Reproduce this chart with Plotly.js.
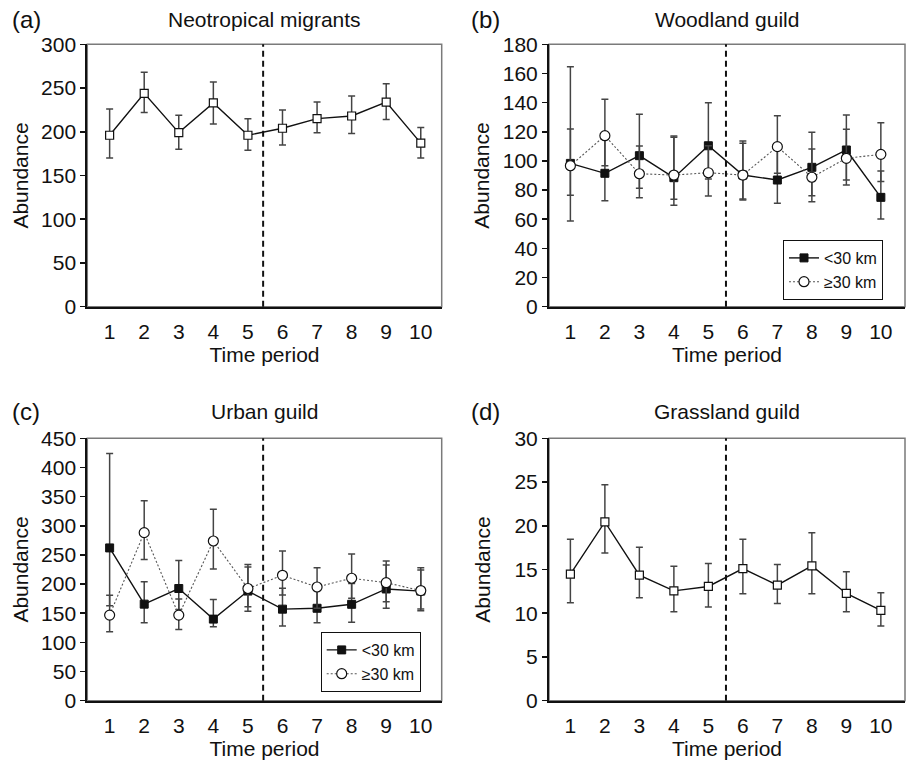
<!DOCTYPE html>
<html>
<head>
<meta charset="utf-8">
<script src="https://cdn.plot.ly/plotly-3.0.1.min.js"></script>
<style>html,body{margin:0;padding:0;background:#fff;}#chart{width:906px;height:764px;}</style>
</head>
<body>
<div id="chart"></div>
<script>
// ---------- data ----------
const periods = [1, 2, 3, 4, 5, 6, 7, 8, 9, 10];
const periodLabels = ['1', '2', '3', '4', '5', '6', '7', '8', '9', '10'];
const breakAfterPeriod = 5;

const panelLetters = ['(a)', '(b)', '(c)', '(d)'];
const panelTitles = ['Neotropical migrants', 'Woodland guild', 'Urban guild', 'Grassland guild'];
const seriesNames = ['&lt;30 km', '≥30 km'];

// (a) Neotropical migrants
const neoMean  = [196, 244, 199, 233, 196, 204, 215, 218, 234, 187];
const neoUpper = [226, 268, 219, 257, 215, 225, 234, 241, 255, 205];
const neoLower = [170, 222, 180, 209, 179, 185, 199, 198, 214, 170];

// (b) Woodland guild
const woodNearMean  = [98.3, 91.5, 103.6, 88.5, 110.4, 90.3, 86.9, 95.6, 107.5, 75.0];
const woodNearUpper = [121.9, 117.0, 132.0, 116.2, 139.9, 112.1, 109.8, 119.6, 131.5, 93.1];
const woodNearLower = [76.4, 72.7, 81.2, 69.6, 87.6, 73.2, 70.9, 76.1, 86.9, 60.2];
const woodFarMean   = [96.7, 117.3, 91.2, 90.3, 91.9, 90.3, 109.8, 88.8, 101.8, 104.5];
const woodFarUpper  = [164.6, 142.3, 110.2, 117.1, 110.4, 113.7, 131.0, 108.2, 121.7, 126.2];
const woodFarLower  = [58.8, 96.7, 74.8, 73.7, 75.9, 73.9, 91.5, 72.0, 83.5, 85.8];

// (c) Urban guild
const urbNearMean  = [262, 165.6, 192.4, 139.9, 188, 157, 158.5, 165.3, 191.6, 188];
const urbNearUpper = [424, 203.9, 240.3, 173.6, 229.5, 192.8, 195, 201, 232.9, 224.1];
const urbNearLower = [162.7, 133.7, 156.5, 126.8, 153.6, 128.1, 133.8, 134.5, 158.5, 154.4];
const urbFarMean   = [146.8, 288.2, 146.8, 273.9, 192.4, 215, 195, 210, 202.4, 188.8];
const urbFarUpper  = [181, 342.9, 174.2, 328.5, 233.5, 256.7, 228.1, 251.6, 239.6, 228.1];
const urbFarLower  = [118.3, 242, 122.3, 226, 161, 181.3, 158.5, 175.6, 169.8, 157.3];

// (d) Grassland guild
const grassMean  = [14.47, 20.44, 14.35, 12.56, 13.06, 15.11, 13.21, 15.42, 12.26, 10.32];
const grassUpper = [18.46, 24.7, 17.55, 15.38, 15.68, 18.46, 15.57, 19.19, 14.73, 12.33];
const grassLower = [11.19, 16.9, 11.76, 10.16, 10.70, 12.22, 11.12, 12.22, 10.16, 8.53];

// ---------- styling ----------
const FONT = 'Liberation Sans, Arial, Helvetica, sans-serif';
const INK = '#111';
const ERR = '#444';
const FS = 21;

function errY(mean, upper, lower) {
  return {
    type: 'data', symmetric: false,
    array: upper.map((u, i) => u - mean[i]),
    arrayminus: mean.map((m, i) => m - lower[i]),
    color: ERR, thickness: 1.5, width: 3.5
  };
}
const openSquare = {symbol: 'square', size: 8, color: '#fff', line: {color: INK, width: 1.2}};
const filledSquare = {symbol: 'square', size: 8, color: INK, line: {color: INK, width: 1}};
const openCircle = {symbol: 'circle', size: 10, color: '#fff', line: {color: INK, width: 1.2}};
const solidLine = {color: INK, width: 1.4};
const dotLine = {color: '#555', width: 1.1, dash: '2px,2px'};

const traces = [
  {x: periods, y: neoMean, xaxis: 'x', yaxis: 'y', mode: 'lines+markers', line: solidLine,
   marker: openSquare, error_y: errY(neoMean, neoUpper, neoLower), showlegend: false},
  {x: periods, y: woodNearMean, xaxis: 'x2', yaxis: 'y2', mode: 'lines+markers', line: solidLine,
   marker: filledSquare, error_y: errY(woodNearMean, woodNearUpper, woodNearLower),
   name: seriesNames[0], legend: 'legend', showlegend: true},
  {x: periods, y: woodFarMean, xaxis: 'x2', yaxis: 'y2', mode: 'lines+markers', line: dotLine,
   marker: openCircle, error_y: errY(woodFarMean, woodFarUpper, woodFarLower),
   name: seriesNames[1], legend: 'legend', showlegend: true},
  {x: periods, y: urbNearMean, xaxis: 'x3', yaxis: 'y3', mode: 'lines+markers', line: solidLine,
   marker: filledSquare, error_y: errY(urbNearMean, urbNearUpper, urbNearLower),
   name: seriesNames[0], legend: 'legend2', showlegend: true},
  {x: periods, y: urbFarMean, xaxis: 'x3', yaxis: 'y3', mode: 'lines+markers', line: dotLine,
   marker: openCircle, error_y: errY(urbFarMean, urbFarUpper, urbFarLower),
   name: seriesNames[1], legend: 'legend2', showlegend: true},
  {x: periods, y: grassMean, xaxis: 'x4', yaxis: 'y4', mode: 'lines+markers', line: solidLine,
   marker: openSquare, error_y: errY(grassMean, grassUpper, grassLower), showlegend: false}
];

// ---------- layout ----------
const W = 906, H = 764;
const colDom = [[87.3 / W, 441.7 / W], [549 / W, 905 / W]];
const rowDom = [[1 - 306.7 / H, 1 - 44.3 / H], [1 - 700.7 / H, 1 - 438.3 / H]];
const xRanges = [[0.354, 10.605], [0.38, 10.70]];
const tickOffsets = [0.44, 0.51];
const yRanges = [[0, 300], [0, 180], [0, 450], [0, 30]];
const yDticks = [50, 20, 50, 5];
const yStandoff = [7, 7, 7, 18];

const layout = {
  width: W, height: H,
  margin: {l: 0, r: 0, t: 0, b: 0},
  paper_bgcolor: '#fff', plot_bgcolor: '#fff',
  font: {family: FONT, size: FS, color: INK},
  showlegend: true,
  shapes: [], annotations: []
};

for (let p = 0; p < 4; p++) {
  const col = p % 2, row = Math.floor(p / 2);
  const n = p + 1;
  const xk = 'xaxis' + (n === 1 ? '' : n), yk = 'yaxis' + (n === 1 ? '' : n);
  const xid = 'x' + (n === 1 ? '' : n), yid = 'y' + (n === 1 ? '' : n);
  const off = tickOffsets[col];
  const boundaries = periods.slice(0, -1).map(v => v + off);

  layout[xk] = {
    domain: colDom[col], anchor: yid, range: xRanges[col], fixedrange: true,
    tickmode: 'array', tickvals: periods, ticktext: periodLabels,
    ticks: 'outside', ticklen: 5, tickcolor: 'rgba(0,0,0,0)',
    showline: true, linecolor: INK, linewidth: 2, showgrid: false, zeroline: false,
    tickfont: {size: FS, color: INK},
    title: {text: 'Time period', font: {size: FS, color: INK}, standoff: 4},
    automargin: false
  };
  const ovk = 'xaxis' + (n + 4);
  layout[ovk] = {
    overlaying: xid, anchor: yid, range: xRanges[col], fixedrange: true,
    tickmode: 'array', tickvals: boundaries, showticklabels: false,
    ticks: 'outside', ticklen: 5, tickwidth: 1.5, tickcolor: INK,
    showline: false, showgrid: false, zeroline: false, side: 'bottom'
  };
  layout[yk] = {
    domain: rowDom[row], anchor: xid, range: yRanges[p], fixedrange: true,
    dtick: yDticks[p], tick0: 0, ticks: 'outside', ticklen: 5, tickwidth: 1.5, tickcolor: INK,
    showline: true, linecolor: INK, linewidth: 2, showgrid: false, zeroline: false,
    tickfont: {size: FS, color: INK},
    title: {text: 'Abundance', font: {size: FS, color: INK}, standoff: yStandoff[p]},
    automargin: false
  };
  // frame (top/right grey border)
  layout.shapes.push({type: 'rect', xref: xid + ' domain', yref: yid + ' domain',
    x0: 0, x1: 1, y0: 0, y1: 1, line: {color: '#7a7a7a', width: 1.5}, layer: 'below'});
  // vertical dashed break line
  layout.shapes.push({type: 'line', xref: xid, yref: yid + ' domain',
    x0: breakAfterPeriod + off, x1: breakAfterPeriod + off, y0: 0, y1: 1,
    line: {color: INK, width: 2, dash: '6px,4px'}});
  // panel title
  const titleY = row === 0 ? 1 - 20 / H : 1 - 411 / H;
  layout.annotations.push({text: panelTitles[p], xref: xid + ' domain', yref: 'paper',
    x: 0.5, y: titleY, xanchor: 'center', yanchor: 'middle', showarrow: false,
    font: {size: FS, color: INK}});
  // panel letter
  layout.annotations.push({text: panelLetters[p], xref: 'paper', yref: 'paper',
    x: (col === 0 ? 10 : 469) / W, y: titleY, xanchor: 'left', yanchor: 'middle', showarrow: false,
    font: {size: 24, color: INK}});
}

layout.legend = {x: 783 / W, y: 1 - 300 / H, xanchor: 'left', yanchor: 'bottom',
  bordercolor: INK, borderwidth: 1, bgcolor: '#fff', font: {size: 16, color: INK},
  tracegroupgap: 0, itemwidth: 30};
layout.legend2 = {x: 320.7 / W, y: 1 - 692 / H, xanchor: 'left', yanchor: 'bottom',
  bordercolor: INK, borderwidth: 1, bgcolor: '#fff', font: {size: 16, color: INK},
  tracegroupgap: 0, itemwidth: 30};

Plotly.newPlot('chart', traces, layout, {staticPlot: true, displayModeBar: false});
</script>
</body>
</html>
